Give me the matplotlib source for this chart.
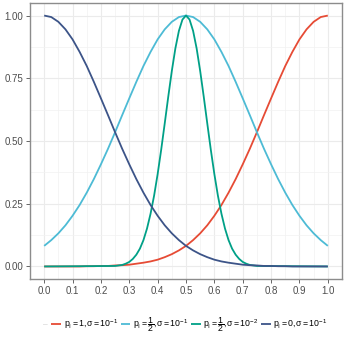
import numpy as np
import matplotlib
matplotlib.use("Agg")
from matplotlib import pyplot as plt
from matplotlib.ticker import MultipleLocator

# x positions (step 0.025)
x = [0.000, 0.025, 0.050, 0.075, 0.100, 0.125, 0.150, 0.175, 0.200, 0.225,
     0.250, 0.275, 0.300, 0.325, 0.350, 0.375, 0.400, 0.425, 0.450, 0.475,
     0.500, 0.525, 0.550, 0.575, 0.600, 0.625, 0.650, 0.675, 0.700, 0.725,
     0.750, 0.775, 0.800, 0.825, 0.850, 0.875, 0.900, 0.925, 0.950, 0.975, 1.000]

# p = 0, sigma = 1e-1 (dark blue)
y_p0 = [1.000, 0.994, 0.975, 0.945, 0.905, 0.855, 0.799, 0.736, 0.670, 0.603,
        0.535, 0.469, 0.407, 0.348, 0.294, 0.245, 0.202, 0.164, 0.132, 0.105,
        0.082, 0.064, 0.049, 0.037, 0.027, 0.020, 0.015, 0.011, 0.007, 0.005,
        0.004, 0.002, 0.002, 0.001, 0.001, 0.000, 0.000, 0.000, 0.000, 0.000, 0.000]

# p = 1, sigma = 1e-1 (red)
y_p1 = [0.000, 0.000, 0.000, 0.000, 0.000, 0.000, 0.001, 0.001, 0.002, 0.002,
        0.004, 0.005, 0.007, 0.011, 0.015, 0.020, 0.027, 0.037, 0.049, 0.064,
        0.082, 0.105, 0.132, 0.164, 0.202, 0.245, 0.294, 0.348, 0.407, 0.469,
        0.535, 0.603, 0.670, 0.736, 0.799, 0.855, 0.905, 0.945, 0.975, 0.994, 1.000]

# p = 1/2, sigma = 1e-1 (light blue)
y_half_wide = [0.082, 0.105, 0.132, 0.164, 0.202, 0.245, 0.294, 0.348, 0.407, 0.469,
               0.535, 0.603, 0.670, 0.736, 0.799, 0.855, 0.905, 0.945, 0.975, 0.994,
               1.000, 0.994, 0.975, 0.945, 0.905, 0.855, 0.799, 0.736, 0.670, 0.603,
               0.535, 0.469, 0.407, 0.348, 0.294, 0.245, 0.202, 0.164, 0.132, 0.105, 0.082]

# p = 1/2, sigma = 1e-2 (green), read on a finer step around the peak
x_narrow = [0.000, 0.2500, 0.2625, 0.2750, 0.2875, 0.3000, 0.3125, 0.3250, 0.3375, 0.3500,
            0.3625, 0.3750, 0.3875, 0.4000, 0.4125, 0.4250, 0.4375, 0.4500, 0.4625, 0.4750,
            0.4875, 0.5000, 0.5125, 0.5250, 0.5375, 0.5500, 0.5625, 0.5750, 0.5875, 0.6000,
            0.6125, 0.6250, 0.6375, 0.6500, 0.6625, 0.6750, 0.6875, 0.7000, 0.7125, 0.7250,
            0.7375, 0.7500, 1.000]
y_half_narrow = [0.000, 0.002, 0.004, 0.006, 0.011, 0.018, 0.030, 0.047, 0.071, 0.105,
                 0.151, 0.210, 0.282, 0.368, 0.465, 0.570, 0.677, 0.779, 0.869, 0.939,
                 0.984, 1.000, 0.984, 0.939, 0.869, 0.779, 0.677, 0.570, 0.465, 0.368,
                 0.282, 0.210, 0.151, 0.105, 0.071, 0.047, 0.030, 0.018, 0.011, 0.006,
                 0.004, 0.002, 0.000]

labels = [r"$p_{\mathrm{I}}=1,\!\sigma=10^{-1}$",
          r"$p_{\mathrm{I}}=\dfrac{1}{2},\!\sigma=10^{-1}$",
          r"$p_{\mathrm{I}}=\dfrac{1}{2},\!\sigma=10^{-2}$",
          r"$p_{\mathrm{I}}=0,\!\sigma=10^{-1}$"]
colors = ["#E64B35", "#4DBBD5", "#00A087", "#3C5488"]
xs = [x, x, x_narrow, x]
series = [y_p1, y_half_wide, y_half_narrow, y_p0]

plt.rcParams["font.family"] = ["Liberation Sans", "DejaVu Sans"]
plt.rcParams["mathtext.fontset"] = "custom"
plt.rcParams["mathtext.rm"] = "Liberation Sans"
plt.rcParams["mathtext.it"] = "Liberation Sans"

fig = plt.figure(figsize=(3.46, 3.46), dpi=100)
ax = fig.add_axes([30 / 346, 1 - 279 / 346, 312 / 346, 276 / 346])

for xx, ys, c, lab in zip(xs, series, colors, labels):
    ax.plot(xx, ys, color=c, lw=1.3, label=lab, solid_capstyle="butt")

ax.set_xlim(-0.05, 1.05)
ax.set_ylim(-0.05, 1.05)
ax.xaxis.set_major_locator(MultipleLocator(0.1))
ax.xaxis.set_minor_locator(MultipleLocator(0.05))
ax.yaxis.set_major_locator(MultipleLocator(0.25))
ax.yaxis.set_minor_locator(MultipleLocator(0.125))
ax.xaxis.set_major_formatter(plt.FuncFormatter(lambda v, p: f"{v:.1f}"))
ax.yaxis.set_major_formatter(plt.FuncFormatter(lambda v, p: f"{v:.2f}"))

ax.grid(which="major", color="#EBEBEB", lw=0.8)
ax.grid(which="minor", color="#F2F2F2", lw=0.5)
ax.set_axisbelow(True)
for s in ax.spines.values():
    s.set_color("#8C8C8C")
    s.set_linewidth(1.0)
ax.tick_params(which="major", length=3, width=0.6, color="#4D4D4D",
               labelcolor="#4D4D4D", labelsize=7, pad=2)
ax.tick_params(which="minor", length=0)

handles, labs = ax.get_legend_handles_labels()
fig.legend(handles, labs, loc="center", bbox_to_anchor=(0.548, 0.062), ncol=4,
           frameon=False, fontsize=6.3, handlelength=1.1, handletextpad=0.3,
           columnspacing=0.3, borderpad=0)
fig.text(45 / 346, 0.062, "–", color="#C8C8C8", fontsize=6, ha="center", va="center")

fig.savefig("out.png", dpi=100)
